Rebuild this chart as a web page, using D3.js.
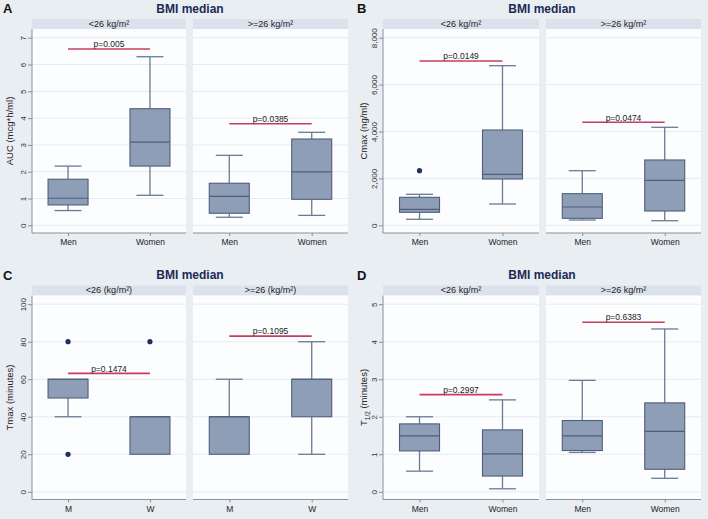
<!DOCTYPE html>
<html><head><meta charset="utf-8">
<script src="https://cdn.jsdelivr.net/npm/d3@7"></script>
<style>
html,body{margin:0;padding:0;background:#e9eef2;}
text{font-family:"Liberation Sans",Arial,Helvetica,sans-serif;}
</style></head>
<body><svg id="chart" width="708" height="519"></svg>
<script>
// ---------- DATA ----------
const panelLetters = ["A", "B", "C", "D"];
const panelTitle = "BMI median";
const stripsKg = ["<26 kg/m²", ">=26 kg/m²"];
const stripsKgParen = ["<26 (kg/m²)", ">=26 (kg/m²)"];
const sexLong = ["Men", "Women"];
const sexShort = ["M", "W"];

// order of boxes: [<26 Men, <26 Women, >=26 Men, >=26 Women]; each [low whisker, Q1, median, Q3, high whisker]
const aucStats = [[0.55, 0.76, 1.01, 1.72, 2.21], [1.12, 2.21, 3.10, 4.35, 6.29], [0.30, 0.45, 1.08, 1.57, 2.61], [0.37, 0.97, 1.99, 3.22, 3.47]];
const aucOutliers = [[], [], [], []];
const aucPText = ["p=0.005", "p=0.0385"];
const aucPLevel = [6.58, 3.79];
const aucTicks = [0, 1, 2, 3, 4, 5, 6, 7];

const cmaxStats = [[256, 554, 682, 1194, 1322], [908, 1974, 2175, 4064, 6806], [226, 298, 780, 1348, 2328], [196, 610, 1919, 2785, 4179]];
const cmaxOutliers = [[2328], [], [], []];
const cmaxPText = ["p=0.0149", "p=0.0474"];
const cmaxPLevel = [7006, 4392];
const cmaxTicks = [0, 2000, 4000, 6000, 8000];

const tmaxStats = [[40, 50, 60, 60, 60], [20, 20, 40, 40, 40], [20, 20, 40, 40, 60], [20, 40, 60, 60, 80]];
const tmaxOutliers = [[80, 20], [80], [], []];
const tmaxPText = ["p=0.1474", "p=0.1095"];
const tmaxPLevel = [63.1, 83];
const tmaxTicks = [0, 20, 40, 60, 80, 100];

const thalfStats = [[0.55, 1.09, 1.49, 1.81, 2.00], [0.08, 0.42, 1.01, 1.65, 2.45], [1.05, 1.10, 1.49, 1.90, 2.97], [0.36, 0.60, 1.61, 2.37, 4.34]];
const thalfOutliers = [[], [], [], []];
const thalfPText = ["p=0.2997", "p=0.6383"];
const thalfPLevel = [2.59, 4.52];
const thalfTicks = [0, 1, 2, 3, 4, 5];

// ---------- STYLE ----------
const C = {
  bg: "#e9eef2", strip: "#dbe2ec", plot: "#fcfdfe", grid: "#e8ebef",
  axis: "#8a8f98", boxFill: "#8e9eb6", boxStroke: "#4f5e7c", whisker: "#6b7a92",
  pline: "#c83c5c", dot: "#1e3260", text: "#222", title: "#1c2a55"
};

const svg = d3.select("#chart");
svg.append("rect").attr("width", 708).attr("height", 519).attr("fill", C.bg);

function drawPanel(p) {
  const g = svg.append("g").attr("transform", `translate(${p.ox},${p.oy})`);
  const plotTop = 29, plotBot = 233, stripTop = 19;
  const y = d3.scaleLinear().domain([0, p.ticks[p.ticks.length - 1]]).range([225.3, 37.7]);

  g.append("text").attr("x", 3).attr("y", 13).attr("font-size", 13).attr("font-weight", "bold")
    .attr("fill", "#111").text(p.letter);
  g.append("text").attr("x", (p.facets[0][0] + p.facets[1][1]) / 2).attr("y", 12.5)
    .attr("text-anchor", "middle").attr("font-size", 12).attr("font-weight", "bold")
    .attr("fill", C.title).text(panelTitle);

  p.facets.forEach((f, fi) => {
    const [x0, x1] = f;
    g.append("rect").attr("x", x0).attr("y", stripTop).attr("width", x1 - x0).attr("height", plotTop - stripTop).attr("fill", C.strip);
    g.append("text").attr("x", (x0 + x1) / 2).attr("y", plotTop - 2.5).attr("text-anchor", "middle")
      .attr("font-size", 9).attr("fill", C.text).text(p.strips[fi]);
    g.append("rect").attr("x", x0).attr("y", plotTop).attr("width", x1 - x0).attr("height", plotBot - plotTop).attr("fill", C.plot);
    // grid
    g.selectAll(null).data(p.ticks).enter().append("line")
      .attr("x1", x0).attr("x2", x1).attr("y1", d => y(d)).attr("y2", d => y(d))
      .attr("stroke", C.grid).attr("stroke-width", 1);
    // bottom axis
    const x = d3.scalePoint().domain(p.cats).range([x0, x1]).padding(0.44);
    const xAxis = d3.axisBottom(x).tickSize(3).tickPadding(3);
    const ax = g.append("g").attr("transform", `translate(0,${plotBot})`).call(xAxis);
    ax.select(".domain").attr("stroke", C.axis).attr("d", `M${x0},0H${x1}`);
    ax.selectAll(".tick line").attr("stroke", C.axis);
    ax.selectAll(".tick text").attr("font-size", 8.5).attr("fill", C.text).attr("font-family", "Liberation Sans, Arial, sans-serif");

    const bw = 40, cw = 27;
    p.cats.forEach((c, ci) => {
      const s = p.stats[fi * 2 + ci];
      const cx = x(c);
      const bg = g.append("g");
      if (s[4] > s[3]) {
        bg.append("line").attr("x1", cx).attr("x2", cx).attr("y1", y(s[3])).attr("y2", y(s[4])).attr("stroke", C.whisker).attr("stroke-width", 1.3);
        bg.append("line").attr("x1", cx - cw / 2).attr("x2", cx + cw / 2).attr("y1", y(s[4])).attr("y2", y(s[4])).attr("stroke", C.whisker).attr("stroke-width", 1.3);
      }
      if (s[0] < s[1]) {
        bg.append("line").attr("x1", cx).attr("x2", cx).attr("y1", y(s[1])).attr("y2", y(s[0])).attr("stroke", C.whisker).attr("stroke-width", 1.3);
        bg.append("line").attr("x1", cx - cw / 2).attr("x2", cx + cw / 2).attr("y1", y(s[0])).attr("y2", y(s[0])).attr("stroke", C.whisker).attr("stroke-width", 1.3);
      }
      bg.append("rect").attr("x", cx - bw / 2).attr("y", y(s[3])).attr("width", bw).attr("height", y(s[1]) - y(s[3]))
        .attr("fill", C.boxFill).attr("stroke", C.boxStroke).attr("stroke-width", 1.1);
      bg.append("line").attr("x1", cx - bw / 2).attr("x2", cx + bw / 2).attr("y1", y(s[2])).attr("y2", y(s[2]))
        .attr("stroke", C.boxStroke).attr("stroke-width", 1.2);
      bg.selectAll(null).data(p.outliers[fi * 2 + ci]).enter().append("circle")
        .attr("cx", cx).attr("cy", d => y(d)).attr("r", 2.6).attr("fill", C.dot);
    });
    // p-value bracket
    const py = y(p.pLevel[fi]);
    g.append("line").attr("x1", x(p.cats[0])).attr("x2", x(p.cats[1])).attr("y1", py).attr("y2", py)
      .attr("stroke", C.pline).attr("stroke-width", 1.6);
    g.append("text").attr("x", (x(p.cats[0]) + x(p.cats[1])) / 2).attr("y", py - 1.8).attr("text-anchor", "middle")
      .attr("font-size", 8.5).attr("fill", C.text).text(p.pText[fi]);
  });

  // left axis
  const x0 = p.facets[0][0];
  const yAxis = d3.axisLeft(y).tickValues(p.ticks).tickSize(4).tickFormat(p.fmt);
  const ay = g.append("g").attr("transform", `translate(${x0},0)`).call(yAxis);
  ay.select(".domain").attr("stroke", C.axis).attr("d", `M0,${plotTop}V${plotBot}`);
  ay.selectAll(".tick line").attr("stroke", C.axis);
  ay.selectAll(".tick text").attr("font-size", 8).attr("fill", "#333")
    .attr("font-family", "Liberation Sans, Arial, sans-serif")
    .attr("transform", "rotate(-90)").attr("text-anchor", "middle").attr("x", 0).attr("dy", 0).attr("y", -6.5);

  const yl = g.append("text").attr("transform", `translate(13,${(plotTop + plotBot) / 2}) rotate(-90)`)
    .attr("text-anchor", "middle").attr("font-size", 9.5).attr("fill", C.text);
  p.yLabel(yl);
}

const fmtPlain = d3.format("d");
const fmtComma = d3.format(",");

drawPanel({ letter: panelLetters[0], ox: 0, oy: 0, facets: [[32, 186], [193, 348]], strips: stripsKg, cats: sexLong,
  stats: aucStats, outliers: aucOutliers, pText: aucPText, pLevel: aucPLevel, ticks: aucTicks, fmt: fmtPlain,
  yLabel: t => t.text("AUC (mcg*h/ml)") });
drawPanel({ letter: panelLetters[1], ox: 354, oy: 0, facets: [[29, 185], [192, 347]], strips: stripsKg, cats: sexLong,
  stats: cmaxStats, outliers: cmaxOutliers, pText: cmaxPText, pLevel: cmaxPLevel, ticks: cmaxTicks, fmt: fmtComma,
  yLabel: t => t.text("Cmax (ng/ml)") });
drawPanel({ letter: panelLetters[2], ox: 0, oy: 266.5, facets: [[32, 186], [193, 348]], strips: stripsKgParen, cats: sexShort,
  stats: tmaxStats, outliers: tmaxOutliers, pText: tmaxPText, pLevel: tmaxPLevel, ticks: tmaxTicks, fmt: fmtPlain,
  yLabel: t => t.text("Tmax (minutes)") });
drawPanel({ letter: panelLetters[3], ox: 354, oy: 266.5, facets: [[29, 185], [192, 347]], strips: stripsKg, cats: sexLong,
  stats: thalfStats, outliers: thalfOutliers, pText: thalfPText, pLevel: thalfPLevel, ticks: thalfTicks, fmt: fmtPlain,
  yLabel: t => { t.append("tspan").text("T"); t.append("tspan").attr("font-size", 6.5).attr("dy", 2.5).text("1/2");
                 t.append("tspan").attr("dy", -2.5).text(" (minutes)"); } });
</script></body></html>
